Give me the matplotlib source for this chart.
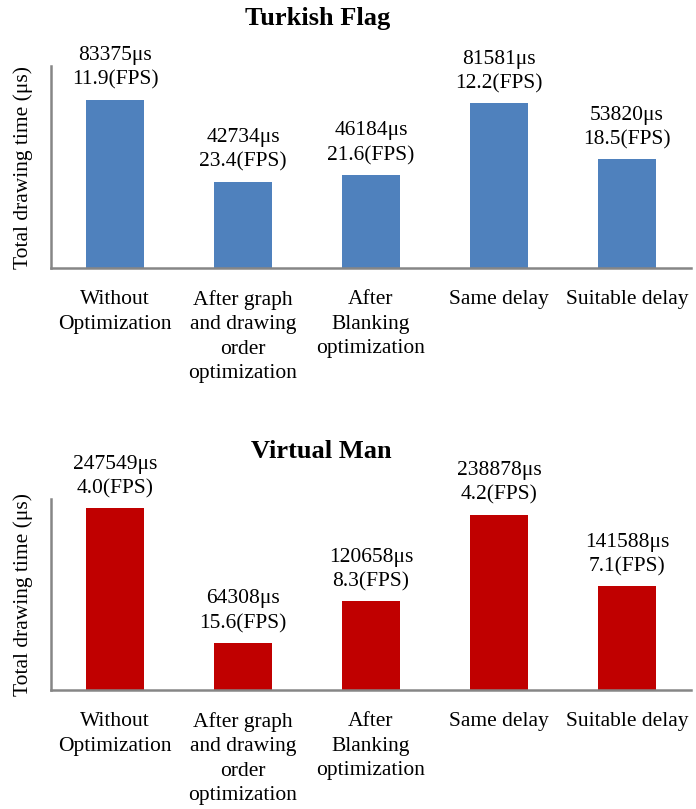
import numpy as np
import matplotlib
matplotlib.use("Agg")
import matplotlib.pyplot as plt

plt.rcParams['font.family'] = ['Liberation Serif', 'DejaVu Serif']

categories = ["Without\nOptimization", "After graph\nand drawing\norder\noptimization",
              "After\nBlanking\noptimization", "Same delay", "Suitable delay"]

flag_time = [83375, 42734, 46184, 81581, 53820]
flag_fps = [11.9, 23.4, 21.6, 12.2, 18.5]

man_time = [247549, 64308, 120658, 238878, 141588]
man_fps = [4.0, 15.6, 8.3, 4.2, 7.1]

fig = plt.figure(figsize=(6.96, 8.09), dpi=100)
ax1 = fig.add_axes([0.0733, 0.6687, 0.9195, 0.2497])
ax2 = fig.add_axes([0.0733, 0.1471, 0.9195, 0.2361])

FS = 15.5


def draw_panel(ax, times, fps, color, ymax):
    x = np.arange(len(times))
    bars = ax.bar(x, times, width=0.46, color=color)
    for b, t, f in zip(bars, times, fps):
        ax.annotate("%dμs\n%.1f(FPS)" % (t, f),
                    (b.get_x() + b.get_width() / 2, b.get_height()),
                    xytext=(0, 7), textcoords="offset points",
                    ha="center", va="bottom", fontsize=FS, linespacing=1.38)
    ax.set_xlim(-0.5, len(times) - 0.5)
    ax.set_ylim(0, ymax)
    ax.set_xticks(x)
    ax.set_xticklabels(categories, fontsize=FS, linespacing=1.38)
    ax.tick_params(axis='x', length=0, pad=16)
    ax.set_yticks([])
    for s in ["top", "right"]:
        ax.spines[s].set_visible(False)
    for s in ["left", "bottom"]:
        ax.spines[s].set_color("#868686")
        ax.spines[s].set_linewidth(1.8)
    ax.set_ylabel("Total drawing time (μs)", fontsize=FS)
    ax.yaxis.set_label_coords(-0.028, 0.5)


draw_panel(ax1, flag_time, flag_fps, "#4F81BD", 100000)
draw_panel(ax2, man_time, man_fps, "#C00000", 260000)

fig.text(0.456, 0.977, "Turkish Flag", ha="center", va="center",
         fontsize=19, fontweight="bold")
fig.text(0.461, 0.4425, "Virtual Man", ha="center", va="center",
         fontsize=19, fontweight="bold")

fig.savefig("out.png", dpi=100)
